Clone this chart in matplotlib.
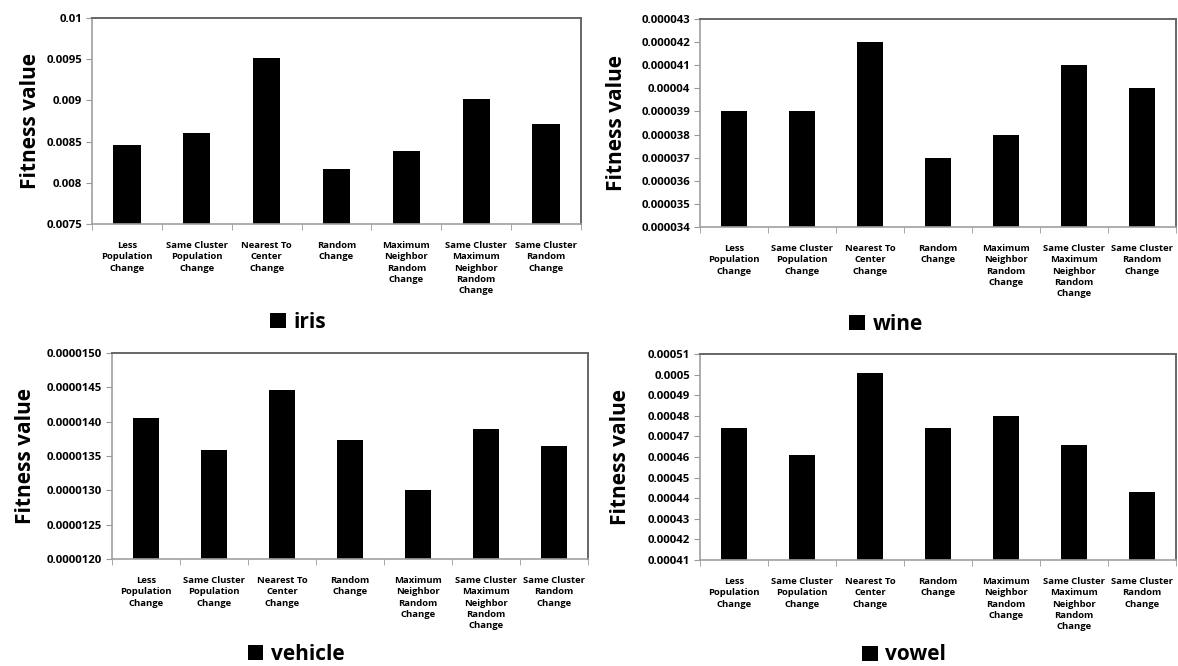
import matplotlib
matplotlib.use("Agg")
import matplotlib.pyplot as plt
from matplotlib.ticker import FixedLocator, FuncFormatter

plt.rcParams["font.family"] = ["Open Sans", "DejaVu Sans"]
plt.rcParams["font.weight"] = "bold"

categories = [
    "Less\nPopulation\nChange",
    "Same Cluster\nPopulation\nChange",
    "Nearest To\nCenter\nChange",
    "Random\nChange",
    "Maximum\nNeighbor\nRandom\nChange",
    "Same Cluster\nMaximum\nNeighbor\nRandom\nChange",
    "Same Cluster\nRandom\nChange",
]

iris = [0.00846, 0.00860, 0.00952, 0.00817, 0.00838, 0.00902, 0.00871]
wine = [0.000039, 0.000039, 0.000042, 0.000037, 0.000038, 0.000041, 0.000040]
vehicle = [0.00001405, 0.00001359, 0.00001446, 0.00001373, 0.00001301, 0.00001390, 0.00001364]
vowel = [0.000474, 0.000461, 0.000501, 0.000474, 0.000480, 0.000466, 0.000443]

iris_ticks = [0.0075, 0.008, 0.0085, 0.009, 0.0095, 0.01]
wine_ticks = [0.000034 + i * 0.000001 for i in range(10)]
vehicle_ticks = [0.0000120 + i * 0.0000005 for i in range(7)]
vowel_ticks = [0.00041 + i * 0.00001 for i in range(11)]

W, H = 1178, 666
fig = plt.figure(figsize=(W / 100, H / 100), dpi=100)


def general(v, pos):
    return f"{v:.7f}".rstrip("0")


def fixed7(v, pos):
    return f"{v:.7f}"


def panel(box, values, ticks, fmt, name, ylab_x, leg_xy):
    left, top, right, bottom = box
    ax = fig.add_axes([left / W, 1 - bottom / H, (right - left) / W, (bottom - top) / H])
    x = list(range(len(values)))
    ax.bar(x, values, width=0.39, color="black", label=name)
    ax.set_xlim(-0.5, len(values) - 0.5)
    ax.set_ylim(ticks[0], ticks[-1])
    ax.yaxis.set_major_locator(FixedLocator(ticks))
    ax.yaxis.set_major_formatter(FuncFormatter(fmt))
    ax.set_xticks(x)
    ax.set_xticklabels(categories, fontsize=6.8, fontweight="bold", linespacing=1.35, va="top")
    ax.set_xticks([i - 0.5 for i in range(len(values) + 1)], minor=True)
    ax.tick_params(axis="x", which="major", length=0, pad=12)
    ax.tick_params(axis="x", which="minor", length=4, color="#999999", direction="out")
    ax.tick_params(axis="y", length=4, color="#999999", direction="out", labelsize=8.2, pad=3)
    for lab in ax.get_yticklabels():
        lab.set_fontweight("bold")
    for side in ["left", "bottom"]:
        ax.spines[side].set_color("#a0a0a0")
        ax.spines[side].set_linewidth(1.2)
    for side in ["top", "right"]:
        ax.spines[side].set_color("#666666")
        ax.spines[side].set_linewidth(1.4)
    fig.text(ylab_x / W, 1 - (top + bottom) / 2 / H, "Fitness value", rotation=90,
             ha="center", va="center", fontsize=15, fontweight="bold")
    ax.legend(loc="center", bbox_to_anchor=(leg_xy[0] / W, 1 - leg_xy[1] / H),
              bbox_transform=fig.transFigure, frameon=False,
              handlelength=0.75, handleheight=0.75, handletextpad=0.35,
              prop={"weight": "bold", "size": 15})
    return ax


panel((92, 18, 581, 224), iris, iris_ticks, general, "iris", 30, (298, 322))
panel((700, 19, 1176, 227), wine, wine_ticks, general, "wine", 616, (886, 324))
panel((112, 353, 588, 559), vehicle, vehicle_ticks, fixed7, "vehicle", 26, (296, 654))
panel((700, 354, 1176, 560), vowel, vowel_ticks, general, "vowel", 620, (904, 655))

fig.savefig("out.png", dpi=100, facecolor="white")
